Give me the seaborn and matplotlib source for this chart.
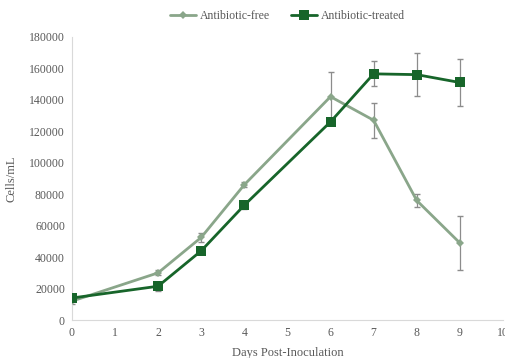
import matplotlib
matplotlib.use("Agg")
import matplotlib.pyplot as plt
import seaborn as sns
import pandas as pd

days = [0, 2, 3, 4, 6, 7, 8, 9]
free_vals = [12000, 30000, 52500, 86000, 142000, 127000, 76000, 49000]
free_err = [1500, 1500, 3000, 1500, 15500, 11000, 4000, 17000]
treated_vals = [14000, 21500, 44000, 73000, 126000, 156500, 156000, 151000]
treated_err = [1500, 3000, 1500, 2500, 2000, 8000, 13500, 15000]
series_names = ["Antibiotic-free", "Antibiotic-treated"]
x_ticks = list(range(0, 11))
y_ticks = list(range(0, 180001, 20000))

df = pd.concat([
    pd.DataFrame({"day": days, "cells": free_vals, "series": series_names[0]}),
    pd.DataFrame({"day": days, "cells": treated_vals, "series": series_names[1]}),
])

sns.set_style("white")
plt.rcParams["font.family"] = ["Liberation Serif", "DejaVu Serif"]

fig = plt.figure(figsize=(5.06, 3.58), dpi=100)
ax = fig.add_axes([0.142, 0.106, 0.852, 0.791])

c_free = "#8aa68a"
c_tr = "#17652a"
ecol = "#8c8c8c"

ax.errorbar(days, free_vals, yerr=free_err, fmt="none", ecolor=ecol, elinewidth=0.9, capsize=2.5, zorder=2)
ax.errorbar(days, treated_vals, yerr=treated_err, fmt="none", ecolor=ecol, elinewidth=0.9, capsize=2.5, zorder=2)

sns.lineplot(data=df, x="day", y="cells", hue="series", style="series",
             palette={series_names[0]: c_free, series_names[1]: c_tr},
             markers={series_names[0]: "D", series_names[1]: "s"},
             markersize=6.5, dashes=False, linewidth=2, markeredgewidth=0,
             ax=ax, zorder=3)
for line in ax.lines:
    if line.get_marker() == "D":
        line.set_markersize(4.5)

ax.set_xlim(0, 10)
ax.set_ylim(0, 180000)
ax.set_xticks(x_ticks)
ax.set_yticks(y_ticks)
ax.tick_params(axis="both", labelsize=8.5, colors="#595959", length=0, pad=5)
for s in ["top", "right"]:
    ax.spines[s].set_visible(False)
for s in ["left", "bottom"]:
    ax.spines[s].set_color("#d9d9d9")
    ax.spines[s].set_linewidth(0.8)
ax.set_xlabel("Days Post-Inoculation", fontsize=9, color="#595959", labelpad=6)
ax.set_ylabel("Cells/mL", fontsize=9, color="#595959", labelpad=8)

handles, labels = ax.get_legend_handles_labels()
ax.legend(handles, labels, loc="lower center", bbox_to_anchor=(0.50, 1.035), ncol=2,
          frameon=False, fontsize=8.5, labelcolor="#595959", handlelength=2.2,
          columnspacing=1.8, handletextpad=0.3, borderaxespad=0)

fig.savefig("out.png", dpi=100)
